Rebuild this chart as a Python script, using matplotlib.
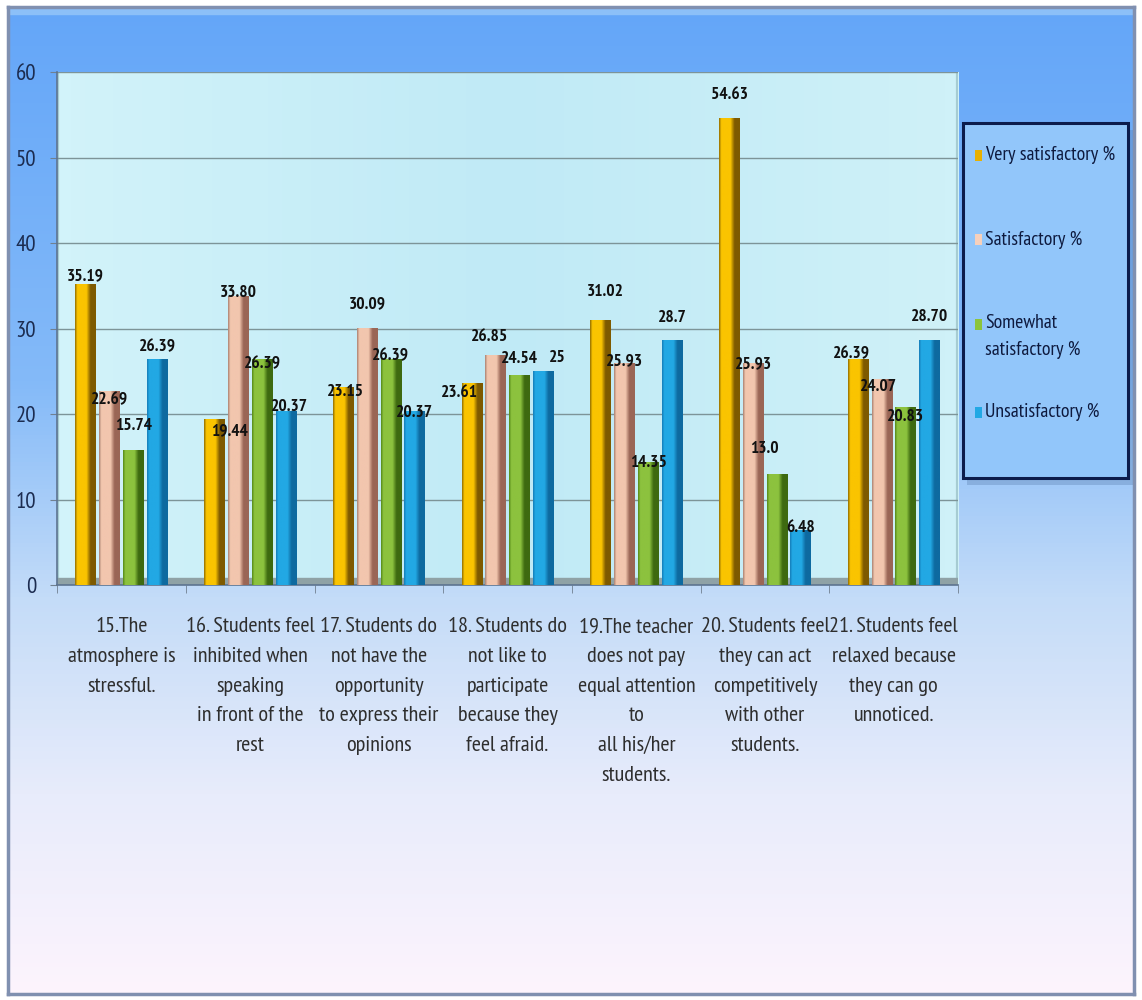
import numpy as np
import matplotlib
matplotlib.use("Agg")
import matplotlib.pyplot as plt
from matplotlib.patches import Rectangle, FancyBboxPatch
from matplotlib.colors import LinearSegmentedColormap

# ---- data -------------------------------------------------------------
categories = [
    "15.The\natmosphere is\nstressful.",
    "16. Students feel\ninhibited when\nspeaking\nin front of the\nrest",
    "17. Students do\nnot have the\nopportunity\nto express their\nopinions",
    "18. Students do\nnot like to\nparticipate\nbecause they\nfeel afraid.",
    "19.The teacher\ndoes not pay\nequal attention\nto\nall his/her\nstudents.",
    "20. Students feel\nthey can act\ncompetitively\nwith other\nstudents.",
    "21. Students feel\nrelaxed because\nthey can go\nunnoticed.",
]
series_names = ["Very satisfactory %", "Satisfactory %",
                "Somewhat\nsatisfactory %", "Unsatisfactory %"]
very_satisfactory = [35.19, 19.44, 23.15, 23.61, 31.02, 54.63, 26.39]
satisfactory = [22.69, 33.80, 30.09, 26.85, 25.93, 25.93, 24.07]
somewhat_satisfactory = [15.74, 26.39, 26.39, 24.54, 14.35, 13.0, 20.83]
unsatisfactory = [26.39, 20.37, 20.37, 25, 28.7, 6.48, 28.70]
value_labels = [
    ["35.19", "19.44", "23.15", "23.61", "31.02", "54.63", "26.39"],
    ["22.69", "33.80", "30.09", "26.85", "25.93", "25.93", "24.07"],
    ["15.74", "26.39", "26.39", "24.54", "14.35", "13.0", "20.83"],
    ["26.39", "20.37", "20.37", "25", "28.7", "6.48", "28.70"],
]
y_ticks = [0, 10, 20, 30, 40, 50, 60]

series = [very_satisfactory, satisfactory, somewhat_satisfactory, unsatisfactory]

# hand-placed label nudges (category units, value units), per series / category
label_dx = [
    [0.0, 0.12, 0.02, -0.10, 0.04, 0.0, -0.05],
    [0.0, 0.0, 0.0, -0.05, 0.0, 0.0, -0.03],
    [0.0, 0.0, 0.0, 0.0, 0.0, -0.10, 0.0],
    [0.0, 0.03, 0.0, 0.11, 0.0, 0.0, 0.0],
]
label_dy = [
    [0.9, -1.5, -0.55, -1.1, 3.3, 2.7, 0.6],
    [-1.1, 0.3, 2.8, 2.15, 0.3, -0.1, -0.9],
    [2.8, -0.6, 0.4, 1.9, -0.05, 2.9, -1.2],
    [1.4, 0.4, -0.2, 1.6, 2.5, 0.2, 2.6],
]

# ---- styling ----------------------------------------------------------
plt.rcParams["font.family"] = ["PT Sans Narrow", "Liberation Sans Narrow", "DejaVu Sans"]

# (left shade, body, right shade) for the cylinder-like bars
bar_shades = [
    ("#9a7400", "#fac400", "#7e5a00"),
    ("#b08878", "#f2c6ae", "#9a6656"),
    ("#5a8e1c", "#8cc23e", "#3e6a10"),
    ("#1680bc", "#22a8e4", "#0e6aa0"),
]
legend_swatch = ["#e8b000", "#f6d0bc", "#8cc43c", "#22a8e4"]

fig = plt.figure(figsize=(11.42, 10), dpi=100)
fig.patch.set_facecolor("white")

# gradient page background inside a framed border
bg = fig.add_axes([0.007, 0.006, 0.986, 0.987], zorder=-10)
grad_stops = [(0.0, "#64a6f8"), (0.38, "#84baf8"), (0.6, "#c4dcf8"),
              (0.8, "#e8ecfb"), (1.0, "#fdf4fd")]
bg_cmap = LinearSegmentedColormap.from_list("page", grad_stops)
bg.imshow(np.linspace(0, 1, 256).reshape(-1, 1), aspect="auto",
          cmap=bg_cmap, extent=[0, 1, 0, 1], origin="upper")
bg.axhspan(0.993, 1.0, color="#8cc0f8", zorder=2)
bg.set_xlim(0, 1)
bg.set_ylim(0, 1)
bg.set_xticks([])
bg.set_yticks([])
for s in bg.spines.values():
    s.set_edgecolor("#8090b0")
    s.set_linewidth(2.5)

# ---- main plot ----------------------------------------------------------
ax = fig.add_axes([0.050, 0.415, 0.789, 0.513])
n = len(categories)

# back wall of the chart
wall_cmap = LinearSegmentedColormap.from_list("wall", ["#d2f3fa", "#c0eaf6", "#cff1f8"])
ax.imshow(np.linspace(0, 1, 64).reshape(1, -1), aspect="auto", cmap=wall_cmap,
          extent=[-0.5, n - 0.5, 0, 60.5], zorder=0)
ax.add_patch(Rectangle((-0.5, 0), n, 60.4, fill=False,
                       edgecolor="#a6ccd2", lw=3, zorder=1))
# floor of the 3-D area
ax.axhspan(0, 0.8, color="#8fa2a6", zorder=1)

for yv in y_ticks[1:]:
    ax.axhline(yv, color="#7d9498", lw=1.0, zorder=1)

x = np.arange(n)
width = 0.16
step = 0.185
offsets = (np.arange(4) - 1.5) * step

for i, vals in enumerate(series):
    left_c, body_c, right_c = bar_shades[i]
    cmap = LinearSegmentedColormap.from_list(
        "bar%d" % i,
        [(0.0, left_c), (0.1, body_c), (0.55, body_c), (0.75, right_c), (1.0, right_c)])
    bars = ax.bar(x + offsets[i], vals, width, color=body_c, edgecolor="none",
                  zorder=3, label=series_names[i].replace("\n", " "))
    for j, (b, v, txt) in enumerate(zip(bars, vals, value_labels[i])):
        x0, y0 = b.get_x(), b.get_y()
        w, h = b.get_width(), b.get_height()
        im = ax.imshow(np.linspace(0, 1, 32).reshape(1, -1), aspect="auto",
                       cmap=cmap, extent=[x0, x0 + w, y0, y0 + h], zorder=3.5)
        im.set_clip_path(b)
        ax.text(x0 + w / 2 + label_dx[i][j], v + label_dy[i][j], txt,
                ha="center", va="center", fontsize=12.5, fontweight="bold",
                color="#111111", zorder=6)

ax.set_xlim(-0.5, n - 0.5)
ax.set_ylim(0, 60)

ax.set_xticks(x)
ax.set_xticklabels(categories, fontsize=16, color="#2e2e2e", linespacing=1.72,
                   va="top")
ax.set_xticks(np.arange(n + 1) - 0.5, minor=True)
ax.tick_params(axis="x", which="major", length=0, pad=23)
ax.tick_params(axis="x", which="minor", length=6, color="#708090")
ax.set_yticks(y_ticks)
ax.set_yticklabels([str(t) for t in y_ticks], fontsize=16.5, color="#1c2c50")
ax.tick_params(axis="y", length=5, color="#708090", pad=10)

for name, s in ax.spines.items():
    if name in ("left", "bottom"):
        s.set_color("#5d7490")
        s.set_linewidth(1.2)
    else:
        s.set_visible(False)
ax.set_facecolor("none")

# ---- legend box -------------------------------------------------------
lg_left, lg_bottom, lg_w, lg_h = 0.843, 0.522, 0.145, 0.355
shadow = FancyBboxPatch((lg_left + 0.004, lg_bottom - 0.007), lg_w, lg_h,
                        boxstyle="square,pad=0", transform=fig.transFigure,
                        facecolor="#5a7fb0", edgecolor="none", alpha=0.35,
                        zorder=4)
fig.patches.append(shadow)
box = FancyBboxPatch((lg_left, lg_bottom), lg_w, lg_h, boxstyle="square,pad=0",
                     transform=fig.transFigure, facecolor="#92c6fa",
                     edgecolor="#0c1c4c", linewidth=2.2, zorder=5)
fig.patches.append(box)

entry_y = [0.845, 0.760, 0.675, 0.588]
for name, col, ey in zip(series_names, legend_swatch, entry_y):
    sw = Rectangle((lg_left + 0.0105, ey - 0.0055), 0.0065, 0.011,
                   transform=fig.transFigure, facecolor=col, edgecolor="none",
                   zorder=6)
    fig.patches.append(sw)
    if "\n" in name:
        fig.text(lg_left + 0.0195, ey + 0.011, name, fontsize=14.3,
                 color="#0e1a3e", va="top", ha="left", linespacing=1.65,
                 zorder=7)
    else:
        fig.text(lg_left + 0.0195, ey, name, fontsize=14.3, color="#0e1a3e",
                 va="center", ha="left", zorder=7)

fig.savefig("out.png", dpi=100, facecolor=fig.get_facecolor())
